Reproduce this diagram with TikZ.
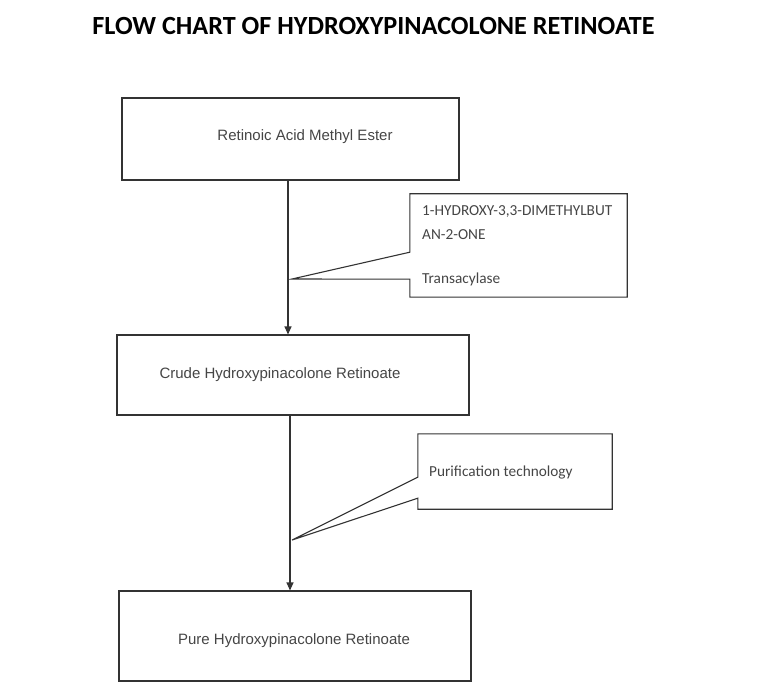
\documentclass[tikz,border=0pt]{standalone}
\usepackage{fontspec}
\setmainfont{Liberation Sans}
\newfontfamily\calib{Carlito}
\usetikzlibrary{arrows.meta}
\definecolor{linegray}{HTML}{333333}
\definecolor{textgray}{HTML}{454545}
\begin{document}
\begin{tikzpicture}[x=1pt,y=-1pt,
  box/.style={draw=linegray,line width=1.1pt,minimum width=#1,inner sep=0pt},
  lbl/.style={text=textgray,font=\fontsize{15}{18}\selectfont,inner sep=0pt},
  note/.style={text=textgray,font=\calib\fontsize{15.3}{17}\selectfont,inner sep=0pt,anchor=west},
  arr/.style={draw=linegray,line width=1.1pt,-{Triangle[length=8pt,width=7pt]}}]
\useasboundingbox (0,0) rectangle (773,692);
\node[font=\calib\bfseries\fontsize{26.2}{30}\selectfont] (title) at (373.5,26) {FLOW CHART OF HYDROXYPINACOLONE RETINOATE};
% boxes
\node[box=337pt,minimum height=82pt] (b1) at (290.5,139) {};
\node[box=352pt,minimum height=80pt] (b2) at (293,375) {};
\node[box=352pt,minimum height=90pt] (b3) at (295,636) {};
\node[lbl] (t1) at (305,137) {Retinoic Acid Methyl Ester};
\node[lbl] (t2) at (280,375) {Crude Hydroxypinacolone Retinoate};
\node[lbl] (t3) at (294,641) {Pure Hydroxypinacolone Retinoate};
\draw[arr] ([xshift=-2.5pt]b1.south) -- ([xshift=-2.5pt]b1.south |- b2.north);
\draw[arr] ([xshift=-3pt]b2.south) -- ([xshift=-3pt]b2.south |- b3.north);
% callouts
\node[minimum width=217pt,minimum height=103pt,inner sep=0pt] (c1) at (518.5,245.5) {};
\node[minimum width=194pt,minimum height=75pt,inner sep=0pt] (c2) at (515,471.5) {};
\coordinate (p1) at (292,279);
\coordinate (p2) at (292,540);
\draw[linegray,line width=1.1pt] (c1.north west) -- (c1.north east) -- (c1.south east) -- (c1.south west)
  -- ([yshift=18pt]c1.south west) -- (p1) -- ([yshift=45pt]c1.south west) -- cycle;
\draw[linegray,line width=1.1pt] (c2.north west) -- (c2.north east) -- (c2.south east) -- (c2.south west)
  -- ([yshift=11pt]c2.south west) -- (p2) -- ([yshift=32pt]c2.south west) -- cycle;
\node[note] (n1) at (422,212) {1-HYDROXY-3,3-DIMETHYLBUT};
\node[note] (n2) at (422,235) {AN-2-ONE};
\node[note] (n3) at (422,279) {Transacylase};
\node[note] (n4) at (429,473) {Purification technology};
\end{tikzpicture}
\end{document}
